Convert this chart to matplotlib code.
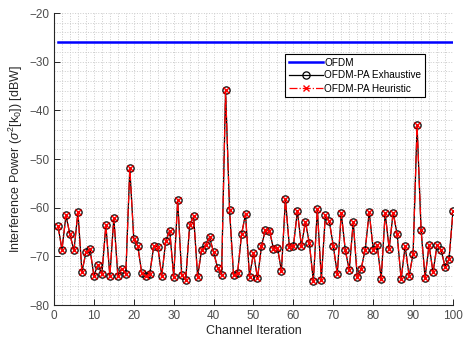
import matplotlib
matplotlib.use("Agg")
import matplotlib.pyplot as plt
import numpy as np
from matplotlib.ticker import MultipleLocator

plt.rcParams['font.family'] = ['Liberation Sans', 'DejaVu Sans']
plt.rcParams['mathtext.fontset'] = 'custom'
plt.rcParams['mathtext.rm'] = 'Liberation Sans'
plt.rcParams['mathtext.it'] = 'Liberation Sans:italic'

channels = list(range(1, 101))
ofdm = [-26.0] * 100
exhaustive = [
    -63.8, -68.6, -61.6, -65.5, -68.8, -60.9, -73.2, -69.2, -68.4, -74.0,
    -71.7, -73.7, -63.6, -74.0, -62.1, -74.0, -72.5, -73.6, -51.9, -66.5,
    -67.9, -73.5, -74.0, -73.6, -67.9, -68.0, -74.0, -66.9, -64.7, -74.2,
    -58.5, -73.8, -74.9, -63.6, -61.8, -74.2, -68.6, -67.7, -66.1, -69.2,
    -72.3, -73.9, -35.9, -60.5, -73.8, -73.5, -65.5, -61.3, -74.2, -69.3,
    -74.5, -67.9, -64.5, -64.7, -68.4, -68.2, -73.0, -58.3, -68.1, -67.9,
    -60.7, -67.9, -62.9, -67.3, -75.1, -60.3, -74.8, -61.6, -62.8, -67.9,
    -73.6, -61.1, -68.7, -72.8, -62.9, -74.2, -72.5, -68.6, -60.9, -68.6,
    -67.7, -74.7, -61.1, -68.4, -61.0, -65.5, -74.7, -67.9, -74.0, -69.5,
    -43.1, -64.6, -74.4, -67.7, -73.3, -67.7, -68.6, -72.1, -70.6, -60.7,
]
heuristic = list(exhaustive)

fig = plt.figure(figsize=(4.70, 3.39), dpi=100)
ax = fig.add_axes([54/470, 1 - 305/339, (453-54)/470, (305-13)/339])

ax.plot(channels, ofdm, color='#0000ff', lw=1.8, label='OFDM', zorder=3)
ax.plot(channels, exhaustive, color='black', lw=0.9, marker='o', ms=5.2,
        mfc='none', mec='black', mew=0.9, label='OFDM-PA Exhaustive', zorder=4)
ax.plot(channels, heuristic, color='red', lw=0.9, ls='-.', marker='x', ms=4,
        mew=1.0, label='OFDM-PA Heuristic', zorder=5)

ax.set_xlim(0, 100)
ax.set_ylim(-80, -20)
ax.xaxis.set_major_locator(MultipleLocator(10))
ax.yaxis.set_major_locator(MultipleLocator(10))
ax.xaxis.set_minor_locator(MultipleLocator(2))
ax.yaxis.set_minor_locator(MultipleLocator(2))
ax.grid(which='both', color='#cccccc', ls=':', lw=0.7)
ax.set_axisbelow(True)

for s in ['top', 'right']:
    ax.spines[s].set_visible(False)
for s in ['left', 'bottom']:
    ax.spines[s].set_color('#262626')
    ax.spines[s].set_linewidth(0.8)
ax.tick_params(which='major', direction='in', length=4, width=0.7,
               colors='#262626', labelsize=8.5, labelcolor='#4d4d4d')
ax.tick_params(which='minor', length=0)

ax.set_xlabel('Channel Iteration', fontsize=9, color='#262626', labelpad=2)
ax.set_ylabel(r'Interference Power ($\sigma^2$[k$_0$]) [dBW]', fontsize=9,
              color='#262626', labelpad=3)

leg = ax.legend(loc='upper left', bbox_to_anchor=((285-54)/(453-54), 1 - (54-13)/(305-13)),
                fontsize=7.2, frameon=True, fancybox=False, edgecolor='black',
                framealpha=1, handlelength=3.4, borderpad=0.35, labelspacing=0.3,
                handletextpad=0.2, borderaxespad=0)
leg.get_frame().set_linewidth(0.8)

fig.savefig('out.png', dpi=100)
